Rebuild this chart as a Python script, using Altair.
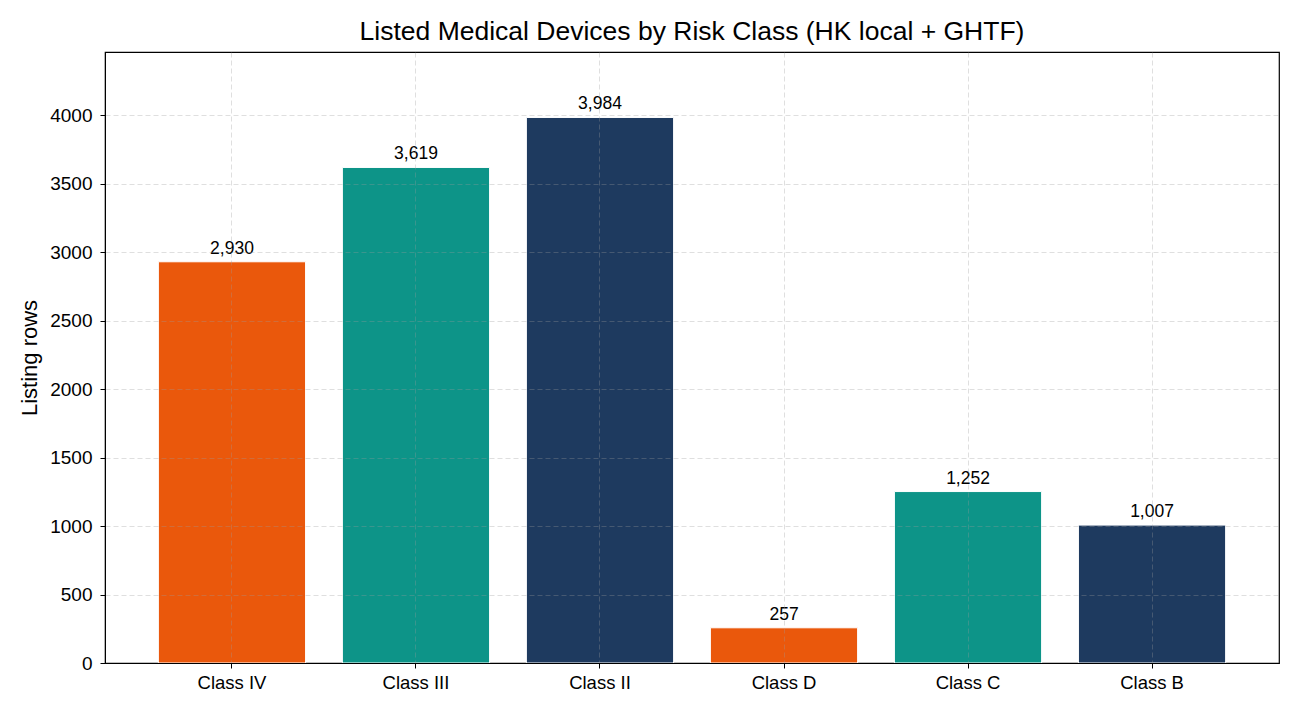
import altair as alt
import pandas as pd

classes = ["Class IV", "Class III", "Class II", "Class D", "Class C", "Class B"]
counts = [2930, 3619, 3984, 257, 1252, 1007]
colors = ["#EA580C", "#0D9488", "#1E3A5F", "#EA580C", "#0D9488", "#1E3A5F"]
y_ticks = [0, 500, 1000, 1500, 2000, 2500, 3000, 3500, 4000]

df = pd.DataFrame({"cls": classes, "n": counts, "color": colors})

FONT = "Liberation Sans"
y_max = max(counts) * 1.12

grid_style = dict(grid=True, gridColor="#9a9a9a", gridOpacity=0.32, gridDash=[5, 3], zindex=1)

x_enc = alt.X(
    "cls:N",
    sort=classes,
    title=None,
    scale=alt.Scale(paddingInner=0.2, paddingOuter=0.29),
    axis=alt.Axis(
        labelAngle=0, labelFontSize=18.5, labelColor="#000000", labelFont=FONT,
        labelPadding=5, tickColor="#000000", tickSize=5, domainColor="#000000",
        bandPosition=0.5, **grid_style,
    ),
)
y_enc = alt.Y(
    "n:Q",
    title="Listing rows",
    scale=alt.Scale(domain=[0, y_max], nice=False, zero=True),
    axis=alt.Axis(
        values=y_ticks, format="d", labelFontSize=19, labelColor="#000000",
        labelFont=FONT, labelPadding=8, tickColor="#000000", tickSize=5,
        domainColor="#000000", titleFontSize=22, titleFont=FONT,
        titleFontWeight="normal", titleColor="#000000", titlePadding=8,
        **grid_style,
    ),
)

bars = alt.Chart(df).mark_bar(stroke="white", strokeWidth=1).encode(
    x=x_enc,
    y=y_enc,
    color=alt.Color("color:N", scale=None),
)

labels = alt.Chart(df).mark_text(
    dy=-13, fontSize=17.5, font=FONT, color="#000000", baseline="middle"
).encode(
    x=alt.X("cls:N", sort=classes),
    y=alt.Y("n:Q"),
    text=alt.Text("n:Q", format=","),
)

chart = (
    alt.layer(bars, labels)
    .properties(
        width=1174,
        height=611,
        background="white",
        title=alt.TitleParams(
            "Listed Medical Devices by Risk Class (HK local + GHTF)",
            fontSize=26.5, font=FONT, fontWeight="normal", color="#000000",
            anchor="middle", offset=7,
        ),
        autosize=alt.AutoSizeParams(type="none"),
        padding={"left": 105, "top": 52, "right": 21, "bottom": 52},
    )
    .configure_view(stroke="#000000", strokeWidth=1.2)
)

chart.save("out.html", embed_options={"renderer": "svg", "actions": False})
